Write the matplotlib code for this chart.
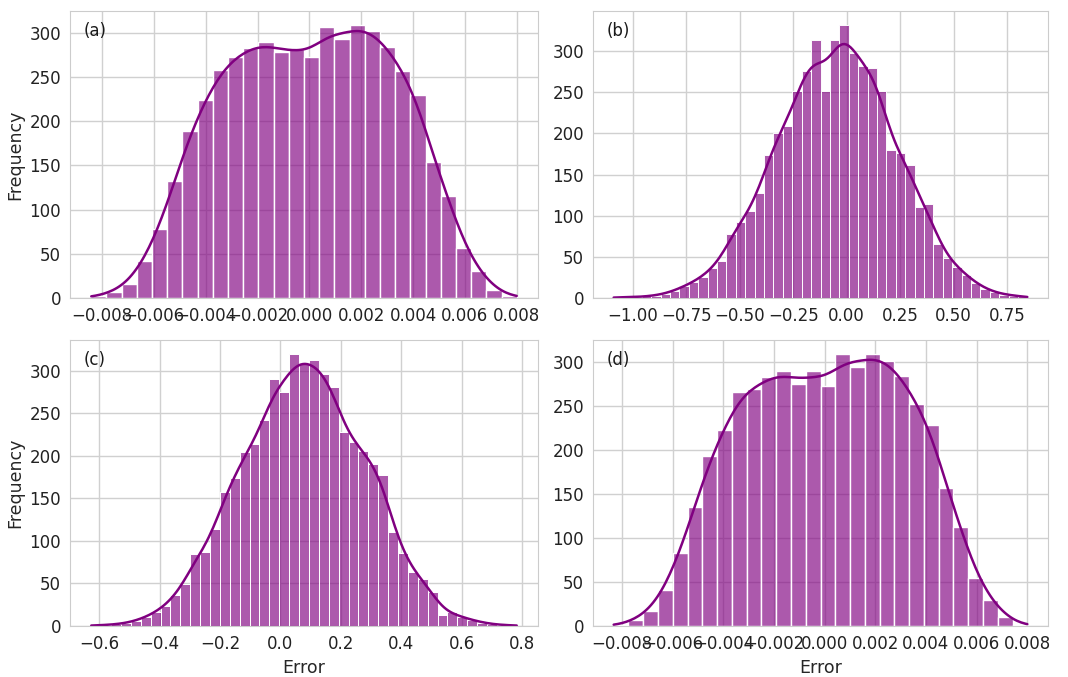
import numpy as np
import matplotlib
matplotlib.use("Agg")
import matplotlib.pyplot as plt
import seaborn as sns

# bin counts (left to right)
a_counts = [2, 7, 16, 42, 78, 132, 189, 224, 258, 273, 283, 289, 278, 282,
            272, 306, 293, 309, 302, 284, 257, 229, 154, 115, 56, 31, 9, 2]
a_range = (-0.00842, 0.0080)

b_counts = [1, 1, 1, 2, 3, 5, 9, 14, 20, 25, 37, 45, 78, 92, 106, 127, 174,
            201, 209, 251, 276, 313, 251, 313, 332, 298, 282, 279, 251, 180,
            176, 162, 110, 114, 65, 49, 38, 28, 18, 11, 7, 4, 3, 2]
b_range = (-1.09, 0.845)

c_counts = [1, 1, 2, 3, 6, 10, 16, 23, 36, 49, 85, 87, 114, 158, 174, 204,
            214, 242, 290, 275, 320, 308, 312, 296, 281, 228, 216, 206, 190,
            177, 111, 86, 63, 55, 40, 13, 16, 10, 7, 4, 2, 1, 1]
c_range = (-0.626, 0.782)

d_counts = [1, 7, 17, 41, 83, 135, 193, 222, 266, 269, 282, 289, 274, 289,
            272, 309, 294, 309, 301, 284, 252, 228, 156, 112, 55, 30, 10, 1]
d_range = (-0.00833, 0.0080)

panel_labels = ["(a)", "(b)", "(c)", "(d)"]
small_ticks = [-0.008, -0.006, -0.004, -0.002, 0.0, 0.002, 0.004, 0.006, 0.008]
b_ticks = [-1.0, -0.75, -0.5, -0.25, 0.0, 0.25, 0.5, 0.75]
c_ticks = [-0.6, -0.4, -0.2, 0.0, 0.2, 0.4, 0.6, 0.8]

sns.set_style("whitegrid")
plt.rcParams["font.family"] = ["DejaVu Sans"]

W, H = 1068, 677
fig = plt.figure(figsize=(W / 100, H / 100), dpi=100)

# axes boxes in pixels: left, top, width, height
boxes = [(70, 11, 468, 287), (593, 11, 455, 287),
         (70, 340, 468, 286), (593, 340, 455, 286)]

panels = [(a_counts, a_range, small_ticks, "{:.3f}"),
          (b_counts, b_range, b_ticks, "{:.2f}"),
          (c_counts, c_range, c_ticks, "{:.1f}"),
          (d_counts, d_range, small_ticks, "{:.3f}")]

for i, ((counts, rng, xt, fmt), (l, t, w, h)) in enumerate(zip(panels, boxes)):
    ax = fig.add_axes([l / W, 1 - (t + h) / H, w / W, h / H])
    edges = np.linspace(rng[0], rng[1], len(counts) + 1)
    centers = (edges[:-1] + edges[1:]) / 2
    samples = np.repeat(centers, counts)
    sns.histplot(x=samples, bins=edges, kde=True, color="purple", alpha=0.65,
                 kde_kws={"cut": 3, "clip": rng},
                 line_kws={"linewidth": 1.8, "color": "#730073"}, ax=ax)
    ax.set_xticks(xt)
    ax.set_xticklabels([fmt.format(v).replace("-", "\u2212") for v in xt])
    ax.set_yticks([0, 50, 100, 150, 200, 250, 300])
    ax.tick_params(labelsize=12, colors="#222222", pad=3)
    ax.grid(True, color="#d0d0d0", linewidth=1)
    for s in ax.spines.values():
        s.set_color("#cccccc")
    ax.text(0.03, 0.93, panel_labels[i], transform=ax.transAxes, fontsize=12,
            ha="left", va="center", color="#1a1a1a")
    if i % 2 == 0:
        ax.set_ylabel("Frequency", fontsize=12.5)
    else:
        ax.set_ylabel("")
    if i >= 2:
        ax.set_xlabel("Error", fontsize=12.5)
    else:
        ax.set_xlabel("")

fig.savefig("out.png", dpi=100)
